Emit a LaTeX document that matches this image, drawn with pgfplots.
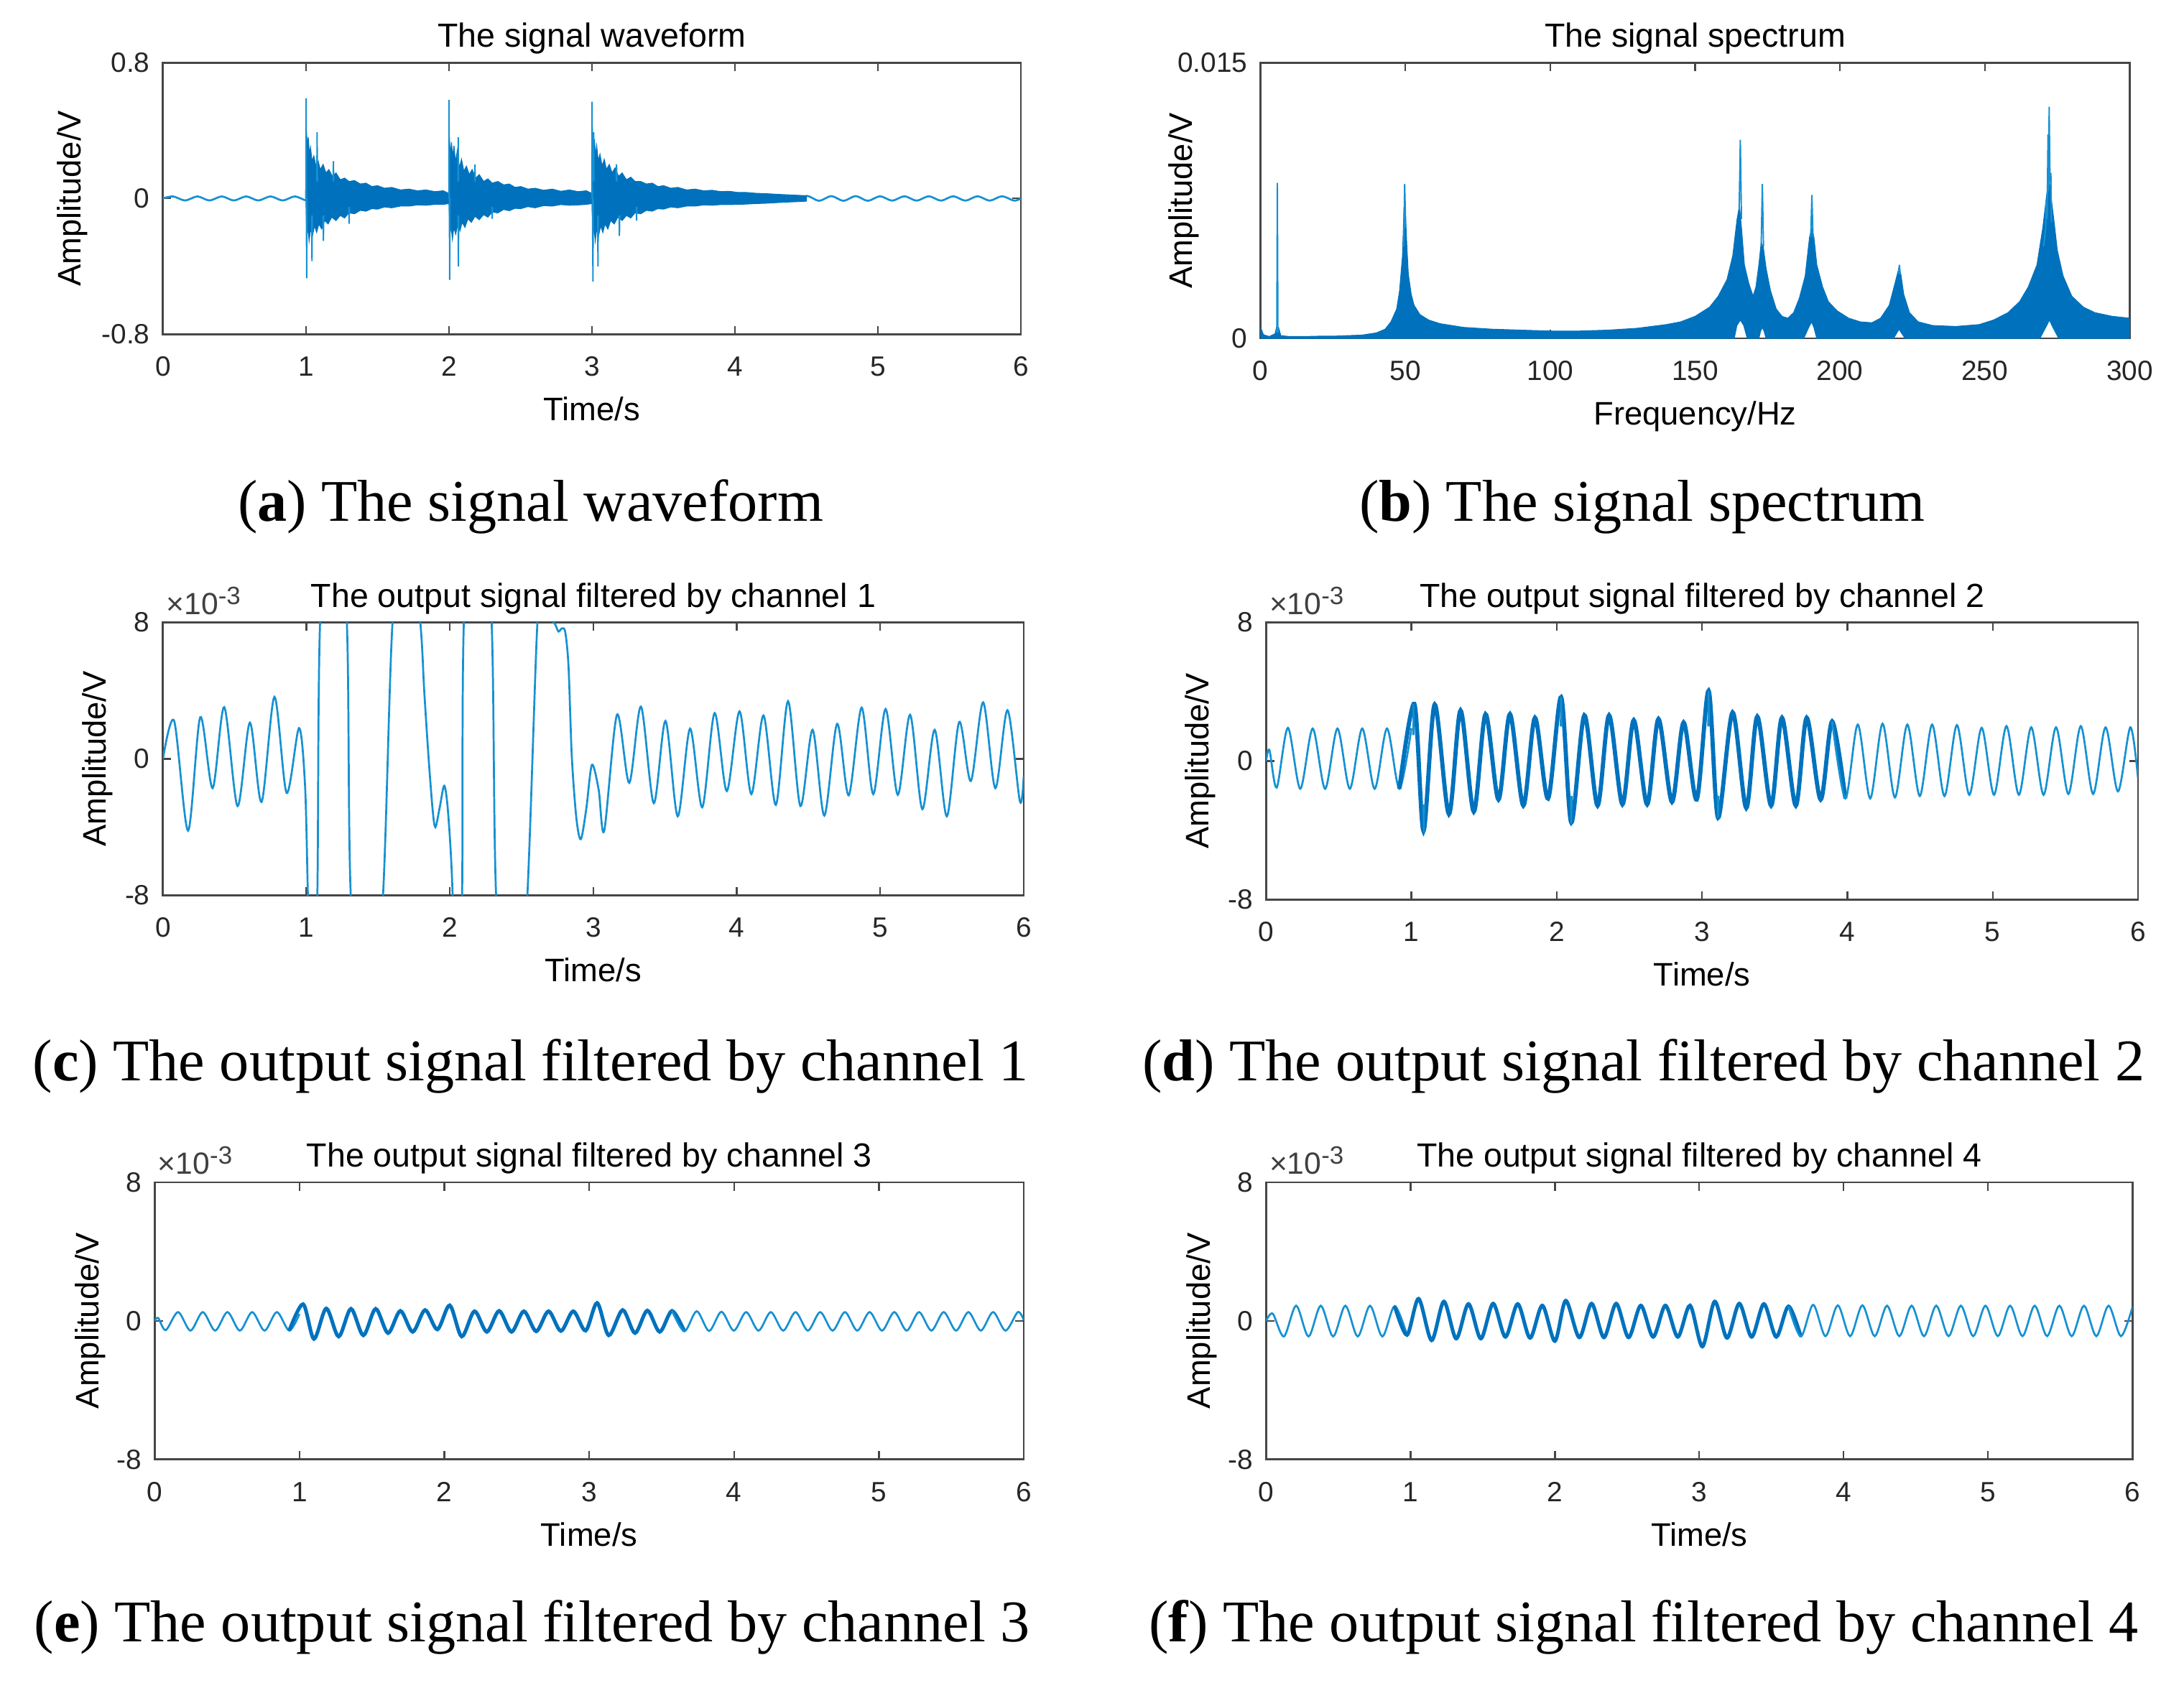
\documentclass[border=0pt]{standalone}
\usepackage{fontspec}
\setmainfont{Liberation Sans}
\newfontfamily\capfont{Liberation Serif}
\usepackage{pgfplots}
\pgfplotsset{compat=1.18}
\definecolor{mblue}{RGB}{0,114,189}
\definecolor{lblue}{RGB}{22,145,210}
\definecolor{axc}{RGB}{70,70,70}
\pgfplotsset{
  mat/.style={
    scale only axis, clip=true,
    axis line style={draw=axc, line width=0.7pt},
    every tick/.style={draw=axc, line width=0.6pt},
    major tick length=3pt, tick align=inside,
    ticklabel style={font=\fontsize{10}{12}\selectfont, text=black!85},
    xticklabel style={anchor=base, yshift=-15pt},
    yticklabel style={xshift=-1.2pt},
    every axis title/.style={at={(axis description cs:0.5,1)}, anchor=base, yshift=5.5pt, font=\fontsize{12}{14}\selectfont},
    every axis x label/.style={at={(axis description cs:0.5,0)}, anchor=base, yshift=-31pt, font=\fontsize{11.7}{14}\selectfont},
  },
  ylab/.style={every axis y label/.style={at={(axis description cs:0,0.5)}, xshift=-#1, rotate=90, anchor=center, font=\fontsize{11.7}{14}\selectfont}},
  tax/.style={xmin=0, xmax=6, xtick={0,1,2,3,4,5,6}, xticklabels={0,1,2,3,4,5,6}, xlabel={Time/s}},
  mx/.style={ymin=-8, ymax=8, ytick={-8,0,8}, yticklabels={-8,0,8}, ylabel={Amplitude/V}},
}
\begin{document}
\begin{tikzpicture}
\path[use as bounding box] (0,0) rectangle (784pt,-604pt);

% ---------------- (a)
\begin{axis}[mat, tax, ylab=32.5pt, name=A, at={(58.5pt,-22.5pt)}, anchor=north west, width=308pt, height=97.5pt,
  ymin=-0.8, ymax=0.8, ytick={-0.8,0,0.8}, yticklabels={-0.8,0,0.8}, ylabel={Amplitude/V}, title={The signal waveform}]
\addplot[lblue, line width=0.7pt, smooth] coordinates {
(0,0) (0.070,0.012) (0.155,-0.012) (0.2405,0.012) (0.3255,-0.012) (0.411,0.012) (0.496,-0.012) (0.5815,0.012) (0.6665,-0.012) (0.752,0.012) (0.837,-0.012) (0.9225,0.012) (1.0075,-0.012)
(1.093,0.012) (1.178,-0.012) (1.2635,0.012) (1.3485,-0.012) (1.434,0.012) (1.519,-0.012) (1.6045,0.012) (1.6895,-0.012) (1.775,0.012) (1.860,-0.012) (1.9455,0.012) (2.0305,-0.012)
(2.116,0.012) (2.201,-0.012) (2.2865,0.012) (2.3715,-0.012) (2.457,0.012) (2.542,-0.012) (2.6275,0.012) (2.7125,-0.012) (2.798,0.012) (2.883,-0.012) (2.9685,0.012) (3.0535,-0.012)
(3.139,0.012) (3.224,-0.012) (3.3095,0.012) (3.3945,-0.012) (3.480,0.012) (3.565,-0.012) (3.6505,0.012) (3.7355,-0.012) (3.821,0.014) (3.906,-0.014) (3.9915,0.015) (4.0765,-0.015)
(4.162,0.015) (4.247,-0.015) (4.3325,0.015) (4.4175,-0.015) (4.503,0.015) (4.588,-0.014) (4.6735,0.014) (4.7585,-0.014) (4.844,0.014) (4.929,-0.014) (5.0145,0.013) (5.0995,-0.013)
(5.185,0.013) (5.270,-0.013) (5.3555,0.013) (5.4405,-0.013) (5.526,0.013) (5.611,-0.013) (5.6965,0.013) (5.7815,-0.013) (5.867,0.013) (5.952,-0.013) (6.0,0.0)};
% burst 1
\addplot[draw=mblue, line width=0.3pt, fill=mblue] coordinates {
(1.000,0.02)(1.003,0.40)(1.010,0.30)(1.016,0.36)(1.024,0.26)(1.032,0.30)(1.042,0.22)(1.055,0.25)(1.070,0.19)(1.085,0.22)(1.100,0.17)(1.120,0.20)(1.140,0.15)(1.160,0.17)(1.185,0.13)(1.210,0.15)(1.240,0.11)(1.270,0.12)(1.300,0.10)(1.340,0.105)(1.380,0.085)(1.420,0.09)(1.460,0.07)(1.500,0.075)(1.550,0.06)(1.600,0.065)(1.660,0.05)(1.720,0.055)(1.780,0.045)(1.840,0.05)(1.900,0.04)(1.960,0.045)(1.998,0.03)
(1.998,-0.03)(1.960,-0.035)(1.900,-0.035)(1.840,-0.04)(1.780,-0.038)(1.720,-0.045)(1.660,-0.045)(1.600,-0.055)(1.550,-0.05)(1.500,-0.063)(1.460,-0.06)(1.420,-0.075)(1.380,-0.07)(1.340,-0.09)(1.300,-0.085)(1.270,-0.115)(1.240,-0.10)(1.210,-0.13)(1.180,-0.11)(1.155,-0.15)(1.130,-0.13)(1.110,-0.18)(1.090,-0.15)(1.075,-0.20)(1.060,-0.16)(1.045,-0.22)(1.032,-0.18)(1.022,-0.25)(1.014,-0.17)(1.006,-0.22)(1.000,-0.02)} -- cycle;
% burst 2
\addplot[draw=mblue, line width=0.3pt, fill=mblue] coordinates {
(2.000,0.02)(2.004,0.34)(2.011,0.26)(2.018,0.33)(2.026,0.24)(2.035,0.31)(2.046,0.21)(2.058,0.28)(2.072,0.18)(2.088,0.23)(2.104,0.16)(2.122,0.19)(2.142,0.14)(2.162,0.17)(2.188,0.12)(2.212,0.14)(2.242,0.10)(2.272,0.115)(2.302,0.09)(2.342,0.10)(2.382,0.08)(2.422,0.085)(2.462,0.065)(2.502,0.07)(2.552,0.055)(2.602,0.06)(2.662,0.048)(2.722,0.055)(2.782,0.042)(2.842,0.05)(2.902,0.04)(2.962,0.045)(2.998,0.03)
(2.998,-0.03)(2.962,-0.035)(2.902,-0.038)(2.842,-0.04)(2.782,-0.036)(2.722,-0.045)(2.662,-0.042)(2.602,-0.055)(2.552,-0.048)(2.502,-0.06)(2.462,-0.058)(2.422,-0.072)(2.382,-0.065)(2.342,-0.085)(2.302,-0.08)(2.272,-0.11)(2.242,-0.095)(2.212,-0.125)(2.182,-0.105)(2.157,-0.14)(2.132,-0.12)(2.112,-0.17)(2.092,-0.14)(2.077,-0.19)(2.062,-0.15)(2.047,-0.21)(2.034,-0.17)(2.024,-0.24)(2.015,-0.16)(2.007,-0.21)(2.000,-0.02)} -- cycle;
% burst 3
\addplot[draw=mblue, line width=0.3pt, fill=mblue] coordinates {
(3.000,0.02)(3.003,0.38)(3.010,0.29)(3.017,0.35)(3.025,0.25)(3.033,0.31)(3.044,0.22)(3.056,0.26)(3.071,0.19)(3.086,0.23)(3.101,0.17)(3.121,0.20)(3.141,0.15)(3.161,0.18)(3.186,0.13)(3.211,0.15)(3.241,0.11)(3.271,0.125)(3.301,0.10)(3.341,0.10)(3.381,0.085)(3.421,0.09)(3.461,0.07)(3.501,0.075)(3.551,0.06)(3.601,0.065)(3.661,0.05)(3.721,0.055)(3.781,0.045)(3.841,0.048)(3.901,0.04)(3.961,0.042)(4.020,0.035)(4.080,0.035)(4.150,0.03)(4.220,0.028)(4.300,0.024)(4.400,0.02)(4.500,0.016)
(4.500,-0.016)(4.400,-0.02)(4.300,-0.024)(4.220,-0.028)(4.150,-0.03)(4.080,-0.033)(4.020,-0.035)(3.961,-0.036)(3.901,-0.036)(3.841,-0.04)(3.781,-0.038)(3.721,-0.045)(3.661,-0.045)(3.601,-0.055)(3.551,-0.05)(3.501,-0.063)(3.461,-0.06)(3.421,-0.075)(3.381,-0.07)(3.341,-0.09)(3.301,-0.085)(3.271,-0.115)(3.241,-0.10)(3.211,-0.13)(3.181,-0.11)(3.156,-0.15)(3.131,-0.13)(3.111,-0.18)(3.091,-0.15)(3.076,-0.20)(3.061,-0.16)(3.046,-0.22)(3.033,-0.18)(3.023,-0.25)(3.015,-0.17)(3.007,-0.22)(3.000,-0.02)} -- cycle;
% spikes
\addplot[lblue, line width=0.5pt, unbounded coords=jump] coordinates {
(0.999,0) (1.001,0.59) (1.003,0) (1.005,-0.47) (1.007,0) (1.008,nan)
(1.040,-0.1) (1.042,-0.37) (1.044,-0.1) (1.045,nan)
(1.076,0.1) (1.078,0.39) (1.080,0.1) (1.081,nan)
(1.120,-0.1) (1.122,-0.25) (1.124,-0.1) (1.125,nan)
(1.190,0.1) (1.192,0.22) (1.194,0.1) (1.195,nan)
(1.300,-0.05) (1.302,-0.15) (1.304,-0.05) (1.305,nan)
(1.999,0) (2.001,0.58) (2.003,0) (2.005,-0.48) (2.007,0) (2.008,nan)
(2.063,0.1) (2.065,0.36) (2.067,0.1) (2.068,nan)
(2.064,-0.1) (2.066,-0.40) (2.068,-0.1) (2.069,nan)
(2.180,0.1) (2.182,0.20) (2.184,0.1) (2.185,nan)
(2.300,-0.05) (2.302,-0.12) (2.304,-0.05) (2.305,nan)
(2.999,0) (3.001,0.57) (3.003,0) (3.007,-0.49) (3.009,0) (3.010,nan)
(3.010,0.1) (3.012,0.39) (3.014,0.1) (3.015,nan)
(3.040,-0.1) (3.042,-0.40) (3.044,-0.1) (3.045,nan)
(3.170,0.1) (3.172,0.20) (3.174,0.1) (3.175,nan)
(3.190,-0.1) (3.192,-0.22) (3.194,-0.1) (3.195,nan)
(3.310,-0.05) (3.312,-0.13) (3.314,-0.05)};
\end{axis}

% ---------------- (b)
\begin{axis}[mat, ylab=27.5pt, name=B, at={(452.5pt,-22.5pt)}, anchor=north west, width=312pt, height=99pt,
  xmin=0, xmax=300, xtick={0,50,100,150,200,250,300}, xticklabels={0,50,100,150,200,250,300},
  ymin=0, ymax=15, ytick={0,15}, yticklabels={0,0.015}, ylabel={Amplitude/V}, xlabel={Frequency/Hz}, title={The signal spectrum}]
\addplot[draw=mblue, line width=0.3pt, fill=mblue] coordinates {
(0,0.6)(1,0.2)(3,0.1)(5,0.25)(5.5,0.6)(6.2,0.6)(7,0.15)(10,0.1)(15,0.1)(20,0.12)(25,0.12)(30,0.15)(35,0.18)(40,0.3)(43,0.5)(45,0.9)(47,1.6)(48,2.6)(49,4.5)(49.5,7.0)(50,6.8)(50.5,5.0)(51,3.5)(52,2.4)(53,1.8)(55,1.3)(58,1.0)(62,0.8)(66,0.7)(70,0.6)(80,0.5)(90,0.45)(100,0.4)(110,0.4)(120,0.45)(130,0.55)(140,0.75)(145,0.9)(150,1.2)(155,1.7)(158,2.3)(161,3.2)(163,4.5)(164.5,6.5)(165.3,7.2)(166,6.0)(167,4.0)(168.5,3.0)(170,2.3)(171,2.8)(172,4.0)(172.8,5.2)(173.5,5.0)(174.5,3.8)(176,2.6)(178,1.6)(180,1.2)(182,1.1)(184,1.4)(186,2.2)(188,3.4)(189.5,5.5)(190.3,6.0)(191,5.5)(192,4.0)(194,2.8)(196,2.0)(199,1.5)(203,1.1)(207,0.9)(211,0.85)(214,1.1)(217,1.8)(219,3.0)(220.3,3.8)(221,3.5)(222,2.4)(224,1.4)(227,0.9)(232,0.7)(240,0.65)(248,0.75)(253,1.0)(258,1.4)(262,2.0)(265,2.8)(268,4.0)(270,6.0)(271.5,8.0)(272.3,8.5)(273,7.5)(274,6.2)(275,4.8)(277,3.4)(280,2.3)(284,1.7)(288,1.4)(294,1.2)(300,1.1)
(300,0)(275.5,0)(273.5,0.6)(272.3,1.0)(271,0.6)(269,0)(222.5,0)(221.2,0.3)(220.4,0.5)(219.6,0.3)(218.5,0)(192,0)(191,0.6)(190.2,0.9)(189.2,0.6)(187.5,0)(174.5,0)(173.8,0.4)(173.2,0.6)(172.6,0.4)(172,0)(168,0)(166.8,0.7)(165.6,1.0)(164.4,0.7)(163.5,0)(0,0)} -- cycle;
\addplot[lblue, line width=0.5pt, unbounded coords=jump] coordinates {
(5.6,0.3)(5.8,8.46)(6.0,0.3)(6.1,nan)
(49.4,5.0)(49.75,8.4)(50.1,6.0)(50.2,nan)
(165.2,7.0)(165.6,10.8)(166.0,6.5)(166.1,nan)
(172.8,5.0)(173.2,8.4)(173.6,5.0)(173.7,nan)
(189.9,5.5)(190.3,7.8)(190.7,5.5)(190.8,nan)
(220.2,3.5)(220.5,4.0)(220.8,3.5)(220.9,nan)
(270.2,5.0)(270.6,5.4)(271.0,6.0)(271.2,7.5)(271.5,6.5)(271.8,11.1)(272.0,8.0)(272.2,12.6)(272.5,8.5)(272.8,9.0)(273.0,6.3)};
\end{axis}

% ---------------- (c)
\begin{axis}[mat, tax, mx, ylab=23.5pt, name=C, at={(58.5pt,-223.5pt)}, anchor=north west, width=309pt, height=98pt,
  title={The output signal filtered by channel 1}]
\addplot[lblue, line width=0.7pt, smooth] coordinates {
(0,0) (0.078,2.23) (0.175,-4.2) (0.26,2.45) (0.346,-1.71) (0.427,3.04) (0.52,-2.76) (0.606,2.13) (0.687,-2.52) (0.777,3.64) (0.862,-1.99) (0.948,1.81)
(0.99,-1.5) (1.01,-8) (1.04,-20) (1.076,-8) (1.095,8) (1.19,22) (1.282,8) (1.309,-8) (1.42,-22) (1.534,-8) (1.6,8) (1.70,16) (1.794,8)
(1.821,4.0) (1.852,0) (1.88,-3) (1.899,-4.0) (1.93,-2.8) (1.961,-1.57) (1.988,-3.2) (2.019,-8) (2.05,-20) (2.085,-8) (2.097,8) (2.19,24) (2.291,8) (2.322,-8) (2.43,-24) (2.54,-8) (2.61,8) (2.66,11)
(2.71,8.3) (2.734,7.9) (2.757,7.47) (2.78,7.65) (2.804,7.44) (2.827,5.4) (2.85,0.1) (2.882,-3.5) (2.913,-4.7) (2.951,-2.9) (2.99,-0.34) (3.037,-1.8) (3.076,-4.2)
(3.165,2.6) (3.25,-1.4) (3.332,3.07) (3.421,-2.59) (3.503,2.23) (3.588,-3.36) (3.674,1.78) (3.759,-2.83) (3.845,2.69) (3.93,-1.88) (4.019,2.79) (4.101,-2.06)
(4.186,2.55) (4.272,-2.69) (4.357,3.39) (4.443,-2.76) (4.528,1.71) (4.61,-3.32) (4.699,2.06) (4.78,-2.13) (4.87,3.01) (4.951,-2.06) (5.037,2.93) (5.122,-2.1)
(5.208,2.59) (5.293,-2.94) (5.379,1.71) (5.464,-3.36) (5.55,2.17) (5.631,-1.29) (5.717,3.32) (5.802,-1.71) (5.887,2.86) (5.973,-2.48) (6.0,-1.0)};
\end{axis}

% ---------------- (d)
\begin{axis}[mat, tax, mx, ylab=23.5pt, name=D, at={(454.5pt,-223.5pt)}, anchor=north west, width=313pt, height=99.5pt,
  title={The output signal filtered by channel 2}]
\addplot[lblue, line width=0.7pt, smooth] coordinates {
(0,0) (0.023,0.63) (0.073,-1.53) (0.150,1.92) (0.235,-1.6) (0.3205,1.88) (0.406,-1.6) (0.491,1.88) (0.576,-1.6) (0.6615,1.88) (0.747,-1.6) (0.832,1.88) (0.917,-1.6) (1.0,1.9)};
\addplot[mblue, line width=1.5pt, smooth] coordinates {
(0.917,-1.6) (1.02,3.3) (1.083,-4.03) (1.16,3.27) (1.258,-3.06) (1.338,2.92) (1.429,-2.92) (1.51,2.71) (1.599,-2.22) (1.678,2.71) (1.770,-2.57) (1.85,2.5) (1.940,-2.16)
(2.03,3.69) (2.10,-3.55) (2.19,2.64) (2.281,-2.57) (2.36,2.64) (2.452,-2.5) (2.53,2.36) (2.622,-2.5) (2.70,2.43) (2.793,-2.36) (2.873,2.23) (2.963,-2.22)
(3.045,4.06) (3.11,-3.27) (3.21,2.81) (3.304,-2.71) (3.38,2.57) (3.475,-2.57) (3.55,2.5) (3.645,-2.57) (3.72,2.5) (3.816,-2.22) (3.895,2.29) (3.986,-2.16)};
\addplot[lblue, line width=0.5pt, unbounded coords=jump] coordinates {
(1.010,1.5)(1.014,3.3)(1.018,1.5)(1.019,nan)
(1.080,-2.5)(1.085,-4.1)(1.090,-2.5)(1.091,nan)
(2.025,2.0)(2.030,3.7)(2.035,2.0)(2.036,nan)
(2.095,-2.0)(2.100,-3.6)(2.105,-2.0)(2.106,nan)
(3.040,2.0)(3.045,4.06)(3.050,2.0)(3.051,nan)
(3.105,-2.0)(3.110,-3.3)(3.115,-2.0)};
\addplot[lblue, line width=0.7pt, smooth] coordinates {
(3.895,2.29) (3.986,-2.16) (4.0715,2.11) (4.157,-2.16) (4.242,2.16) (4.327,-2.1) (4.4125,2.11) (4.498,-2.02) (4.583,2.11) (4.668,-2.02) (4.7535,2.08) (4.839,-1.95)
(4.924,1.92) (5.009,-1.95) (5.0945,2.02) (5.180,-1.95) (5.265,1.95) (5.350,-1.95) (5.4355,1.95) (5.521,-1.9) (5.606,2.02) (5.691,-1.9) (5.7765,1.95) (5.862,-1.75) (5.947,1.95) (6.0,-1.0)};
\end{axis}

% ---------------- (e)
\begin{axis}[mat, tax, mx, ylab=23pt, name=E, at={(55.5pt,-424.5pt)}, anchor=north west, width=312pt, height=99.5pt,
  title={The output signal filtered by channel 3}]
\addplot[lblue, line width=0.7pt, smooth] coordinates {
(0,0) (0.025,0.17) (0.077,-0.53) (0.162,0.51) (0.2475,-0.56) (0.3325,0.51) (0.418,-0.56) (0.503,0.51) (0.5885,-0.56) (0.6735,0.51) (0.759,-0.56) (0.844,0.51) (0.9295,-0.56) (1.0,0.4)};
\addplot[mblue, line width=1.3pt, smooth] coordinates {
(0.9295,-0.56) (1.025,0.97) (1.100,-1.04) (1.185,0.72) (1.2705,-0.9) (1.3555,0.7) (1.441,-0.83) (1.526,0.7) (1.6115,-0.7) (1.6965,0.58) (1.782,-0.63) (1.867,0.63) (1.9525,-0.49)
(2.0375,0.9) (2.12,-0.9) (2.208,0.56) (2.2935,-0.63) (2.3785,0.58) (2.464,-0.63) (2.549,0.56) (2.6345,-0.6) (2.7195,0.56) (2.805,-0.58) (2.89,0.56) (2.9755,-0.56)
(3.055,1.04) (3.135,-0.83) (3.231,0.63) (3.3165,-0.7) (3.4015,0.6) (3.487,-0.63) (3.572,0.58) (3.6575,-0.6)};
\addplot[lblue, line width=0.7pt, smooth] coordinates {
(3.572,0.58) (3.6575,-0.6) (3.7425,0.56) (3.828,-0.58) (3.913,0.53) (3.9985,-0.56) (4.0835,0.51) (4.169,-0.56) (4.254,0.51) (4.3395,-0.56) (4.4245,0.51) (4.510,-0.56) (4.595,0.51)
(4.6805,-0.56) (4.7655,0.51) (4.851,-0.56) (4.936,0.51) (5.0215,-0.56) (5.1065,0.51) (5.192,-0.56) (5.277,0.51) (5.3625,-0.56) (5.4475,0.51) (5.533,-0.56) (5.618,0.51)
(5.7035,-0.56) (5.7885,0.51) (5.874,-0.56) (5.959,0.51) (6.0,0.05)};
\end{axis}

% ---------------- (f)
\begin{axis}[mat, tax, mx, ylab=23pt, name=F, at={(454.5pt,-424.5pt)}, anchor=north west, width=311pt, height=99.5pt,
  title={The output signal filtered by channel 4}]
\addplot[lblue, line width=0.7pt, smooth] coordinates {
(0,0) (0.046,0.42) (0.123,-0.9) (0.208,0.88) (0.2935,-0.9) (0.3785,0.88) (0.464,-0.9) (0.549,0.88) (0.6345,-0.9) (0.7195,0.88) (0.805,-0.9) (0.890,0.86) (0.9755,-0.81)};
\addplot[mblue, line width=1.3pt, smooth] coordinates {
(0.890,0.86) (0.9755,-0.81) (1.056,1.28) (1.146,-1.12) (1.231,1.12) (1.3165,-1.02) (1.4015,0.98) (1.487,-1.02) (1.572,1.0) (1.6575,-0.92) (1.7425,0.98) (1.828,-0.98) (1.913,0.89)
(2.0,-1.16) (2.075,1.17) (2.169,-0.95) (2.254,1.0) (2.3395,-0.95) (2.4245,1.0) (2.510,-0.95) (2.595,0.89) (2.6805,-0.92) (2.7655,0.89) (2.851,-0.92) (2.936,0.89)
(3.0215,-1.48) (3.1065,1.12) (3.192,-0.98) (3.277,1.0) (3.3625,-0.92) (3.4475,0.98) (3.533,-0.92) (3.618,0.84) (3.7035,-0.9)};
\addplot[lblue, line width=0.7pt, smooth] coordinates {
(3.618,0.84) (3.7035,-0.9) (3.7885,0.93) (3.874,-0.88) (3.959,0.9) (4.0445,-0.88) (4.1295,0.9) (4.215,-0.88) (4.300,0.88) (4.3855,-0.88) (4.4705,0.88) (4.556,-0.88) (4.641,0.88)
(4.7265,-0.88) (4.8115,0.88) (4.897,-0.88) (4.982,0.88) (5.0675,-0.88) (5.1525,0.88) (5.238,-0.88) (5.323,0.88) (5.4085,-0.88) (5.4935,0.88) (5.579,-0.88) (5.664,0.88)
(5.7495,-0.88) (5.8345,0.88) (5.920,-0.88) (6.0,0.8)};
\end{axis}

% exponent labels
\foreach \ax in {C,D,E,F}{
  \node[anchor=base west, inner sep=0pt, font=\fontsize{11}{13}\selectfont, text=black!75, xshift=1pt, yshift=3pt] at (\ax.north west) {×10\raisebox{0.6ex}{\fontsize{9}{10}\selectfont -3}};
}

% captions
\begin{scope}[every node/.style={anchor=base, inner sep=0pt, font=\capfont\fontsize{21.2}{24}\selectfont}]
\node at (190.5pt,-187pt) {(\textbf{a}) The signal waveform};
\node at (589.5pt,-187pt) {(\textbf{b}) The signal spectrum};
\node at (190.5pt,-388pt) {(\textbf{c}) The output signal filtered by channel 1};
\node at (590pt,-388pt) {(\textbf{d}) The output signal filtered by channel 2};
\node at (191pt,-589.5pt) {(\textbf{e}) The output signal filtered by channel 3};
\node at (590pt,-589.5pt) {(\textbf{f}) The output signal filtered by channel 4};
\end{scope}
\end{tikzpicture}
\end{document}
